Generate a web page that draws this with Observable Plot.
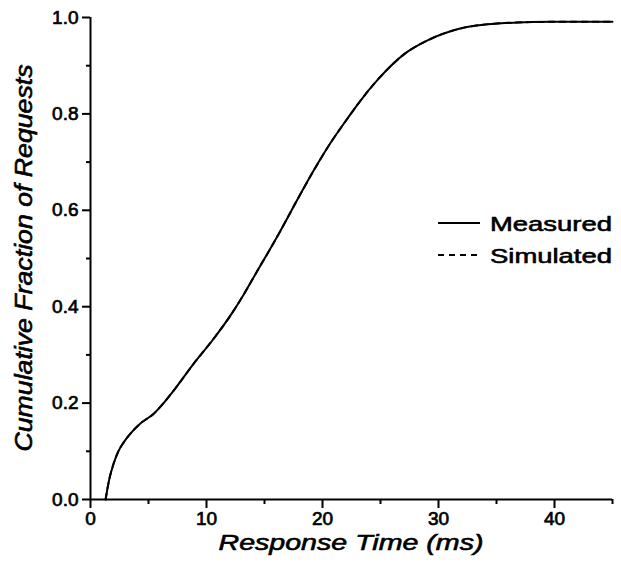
<!DOCTYPE html>
<html>
<head>
<meta charset="utf-8">
<script src="https://cdn.jsdelivr.net/npm/d3@7"></script>
<script src="https://cdn.jsdelivr.net/npm/@observablehq/plot@0.6"></script>
<style>
  html, body { margin: 0; padding: 0; background: white; }
  svg { display: block; }
</style>
</head>
<body>
<div id="chart"></div>
<script>
// Response time (ms)
const measuredX = [1.3, 1.6, 2.0, 2.4, 2.85, 3.46, 4.32, 5.45, 6.3, 7.17, 8.9, 10.6, 12.1, 13.2, 14.4, 15.3, 16.2, 17.9, 19.3, 20.7, 22.2, 23.1, 24.8, 27.1, 29.1, 31.7, 35.4, 39.8, 45];
const measuredY = [0, 0.04, 0.075, 0.1, 0.118, 0.137, 0.158, 0.178, 0.2, 0.226, 0.282, 0.333, 0.383, 0.425, 0.475, 0.512, 0.55, 0.625, 0.685, 0.740, 0.792, 0.822, 0.872, 0.925, 0.953, 0.976, 0.988, 0.991, 0.991];
const simulatedX = [1.3, 1.6, 2.0, 2.4, 2.85, 3.46, 4.32, 5.45, 6.3, 7.17, 8.9, 10.6, 12.1, 13.2, 14.4, 15.3, 16.2, 17.9, 19.3, 20.7, 22.2, 23.1, 24.8, 27.1, 29.1, 31.7, 35.4, 39.8, 45];
const simulatedY = [0, 0.04, 0.075, 0.1, 0.118, 0.137, 0.158, 0.178, 0.2, 0.226, 0.282, 0.333, 0.383, 0.425, 0.475, 0.512, 0.55, 0.625, 0.685, 0.740, 0.792, 0.822, 0.872, 0.925, 0.953, 0.976, 0.988, 0.991, 0.991];

const xMajorTicks = [0, 10, 20, 30, 40];
const xMinorTicks = [5, 15, 25, 35, 45];
const yMajorTicks = [0, 0.2, 0.4, 0.6, 0.8, 1.0];
const yMinorTicks = [0.1, 0.3, 0.5, 0.7, 0.9];
const xLabel = "Response Time (ms)";
const yLabel = "Cumulative Fraction of Requests";
const legendNames = ["Measured", "Simulated"];

const measured = measuredX.map((x, i) => ({x, y: measuredY[i]}));
const simulated = simulatedX.map((x, i) => ({x, y: simulatedY[i]}));

const FONT = "'Liberation Sans', Arial, Helvetica, sans-serif";

const chart = Plot.plot({
  width: 621,
  height: 567,
  marginLeft: 90,
  marginRight: 9,
  marginTop: 17,
  marginBottom: 68,
  style: {fontFamily: FONT, fontSize: "19px", color: "black", background: "white"},
  x: {domain: [0, 45], label: null},
  y: {domain: [0, 1], label: null},
  marks: [
    Plot.axisY({ticks: yMajorTicks, tickSize: 8, tickPadding: 4, strokeWidth: 2, tickFormat: d3.format(".1f"), fontSize: 19, label: null}),
    Plot.axisY({ticks: yMinorTicks, tickSize: 4, strokeWidth: 2, tickFormat: () => "", label: null}),
    Plot.axisX({ticks: xMajorTicks, tickSize: 9, tickPadding: 3, strokeWidth: 2, tickFormat: d3.format("d"), fontSize: 19, label: null}),
    Plot.axisX({ticks: xMinorTicks, tickSize: 5, strokeWidth: 2, tickFormat: () => "", label: null}),
    Plot.ruleX([0], {strokeWidth: 2}),
    Plot.ruleY([0], {strokeWidth: 2}),
    Plot.line(simulated, {x: "x", y: "y", stroke: "black", strokeWidth: 2, strokeDasharray: "6,5", curve: "monotone-x"}),
    Plot.line(measured, {x: "x", y: "y", stroke: "black", strokeWidth: 2, curve: "monotone-x"})
  ]
});

document.getElementById("chart").appendChild(chart);

const svg = d3.select(chart);
// slightly heavier text to match the printed weight
svg.selectAll("g[aria-label='y-axis tick label'] text, g[aria-label='x-axis tick label'] text")
  .attr("stroke", "black").attr("stroke-width", 0.7);

const sx = chart.scale("x"), sy = chart.scale("y");
const cx = (sx.apply(0) + sx.apply(45)) / 2;
const cy = (sy.apply(0) + sy.apply(1)) / 2;

svg.append("text")
  .attr("x", cx).attr("y", 550)
  .attr("text-anchor", "middle")
  .attr("font-family", FONT)
  .attr("font-style", "italic")
  .attr("font-size", 22)
  .attr("stroke", "black").attr("stroke-width", 0.6)
  .attr("textLength", 265)
  .attr("lengthAdjust", "spacingAndGlyphs")
  .text(xLabel);

svg.append("text")
  .attr("transform", `translate(32,${cy}) rotate(-90)`)
  .attr("text-anchor", "middle")
  .attr("font-family", FONT)
  .attr("font-style", "italic")
  .attr("font-size", 23)
  .attr("stroke", "black").attr("stroke-width", 0.6)
  .attr("textLength", 387)
  .attr("lengthAdjust", "spacingAndGlyphs")
  .text(yLabel);

// legend
const lg = svg.append("g").attr("transform", "translate(438,223)");
legendNames.forEach((name, i) => {
  const g = lg.append("g").attr("transform", `translate(0,${i * 32})`);
  g.append("line").attr("x1", 0).attr("x2", 42).attr("y1", 0).attr("y2", 0)
    .attr("stroke", "black").attr("stroke-width", 2)
    .attr("stroke-dasharray", i === 1 ? "6,5" : null);
  g.append("text").attr("x", 52).attr("y", 0).attr("dy", "0.36em")
    .attr("text-anchor", "start")
    .attr("font-family", FONT)
    .attr("font-size", 21)
    .attr("stroke", "black").attr("stroke-width", 0.6)
    .attr("textLength", 122)
    .attr("lengthAdjust", "spacingAndGlyphs")
    .text(name);
});
</script>
</body>
</html>
